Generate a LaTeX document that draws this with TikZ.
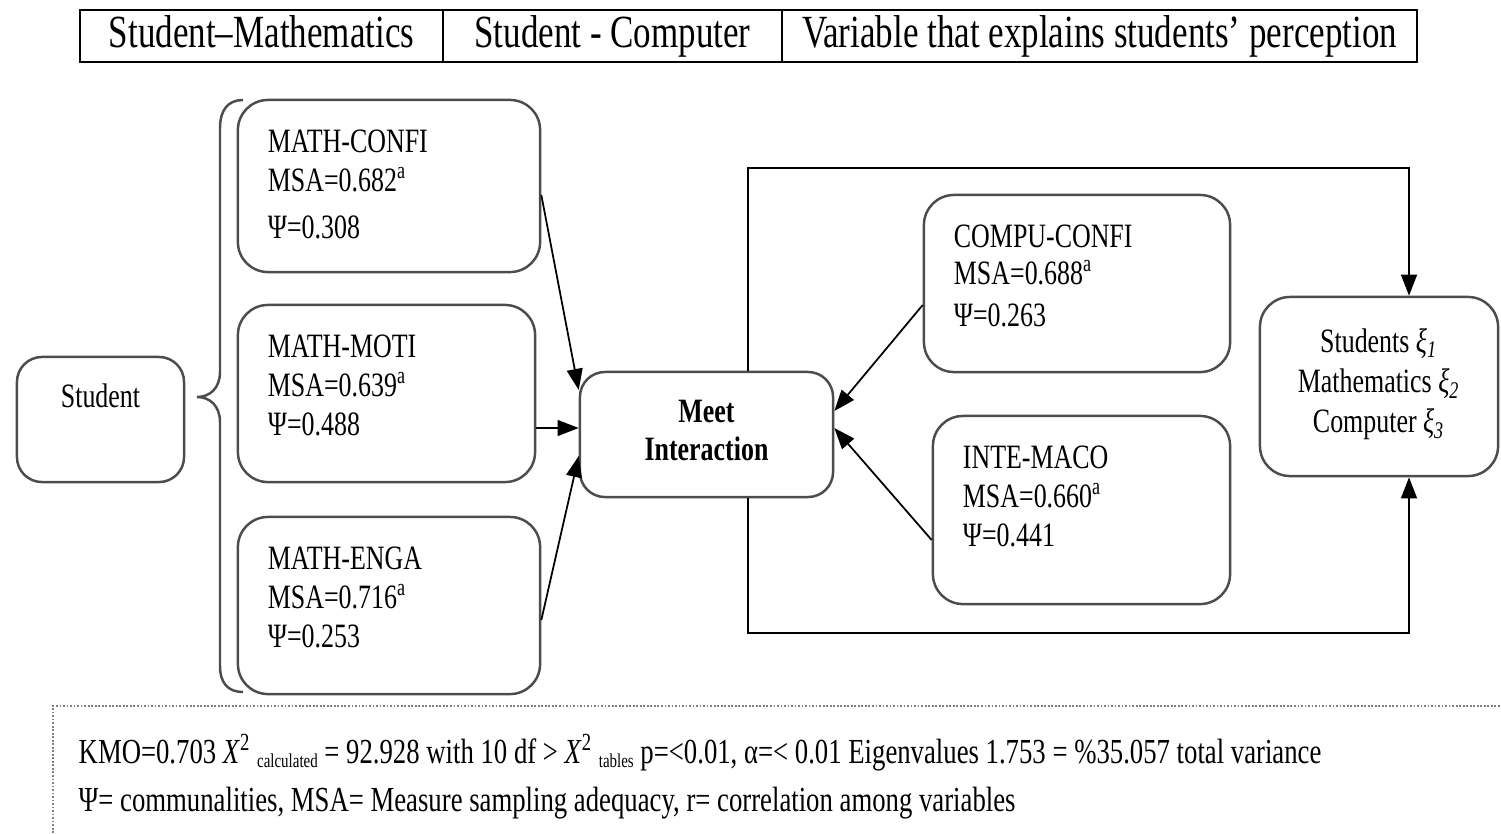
\documentclass[tikz,border=0pt]{standalone}
\usepackage{fontspec}
\setmainfont{Liberation Serif}[FakeStretch=0.76]
\usetikzlibrary{arrows.meta}

\begin{document}
\begin{tikzpicture}[x=0.01cm,y=-0.01cm]
  \tikzstyle{cell}=[rectangle,draw,line width=0.6pt,inner sep=0pt,minimum height=0.52cm,text height=9.5pt,text depth=2.8pt,font=\fontsize{13.1}{15}\selectfont]
  \tikzstyle{factor}=[rectangle,rounded corners=0.3cm,draw=black!70,line width=0.7pt,align=left,inner xsep=0.3cm,font=\fontsize{9.7}{11.1}\selectfont]
  \tikzstyle{latent}=[rectangle,rounded corners=0.25cm,draw=black!70,line width=0.7pt,align=center,font=\fontsize{9.7}{11.1}\selectfont]
  \tikzstyle{link}=[draw,line width=0.5pt,-{Triangle[length=6pt,width=4.5pt]}]
  \tikzstyle{note}=[anchor=base west,inner sep=0pt,font=\fontsize{10}{12}\selectfont]
  \newcommand{\tinysub}[1]{\raisebox{-1.2pt}{\fontsize{5.6}{6}\selectfont #1}}
  \useasboundingbox (0,0) rectangle (1501,833);

  % header row
  \node [cell,minimum width=3.63cm] (hmath) at (261.5,36) {Student--Mathematics};
  \node [cell,minimum width=3.39cm] (hcomp) at (612.5,36) {Student - Computer};
  \node [cell,minimum width=6.35cm] (hvar)  at (1099.5,36) {Variable that explains students’ perception};

  % student and the three mathematics factors
  \node [latent,minimum width=1.67cm,minimum height=1.25cm,text height=6.7pt,text depth=13.3pt] (student) at (100.5,419.5) {Student};
  \draw [black!70,line width=0.7pt] (243,100) .. controls (228,100) and (220,110) .. (220,128) -- (220,372)
        .. controls (220,388) and (210,397) .. (197,397) .. controls (210,397) and (220,406) .. (220,422)
        -- (220,666) .. controls (220,683) and (228,692) .. (243,692);
  \node [factor,text width=2.42cm,minimum height=1.72cm,text depth=25.7pt] (conf) at (389,186) {MATH-CONFI\\MSA=0.682\textsuperscript{a}\\[2.3pt]Ψ=0.308};
  \node [factor,text width=2.37cm,minimum height=1.77cm,text depth=26.8pt] (moti) at (386.5,393.5) {MATH-MOTI\\MSA=0.639\textsuperscript{a}\\Ψ=0.488};
  \node [factor,text width=2.42cm,minimum height=1.77cm,text depth=26.8pt] (enga) at (389,605.5) {MATH-ENGA\\MSA=0.716\textsuperscript{a}\\Ψ=0.253};

  % interaction and the computer factors
  \node [latent,minimum width=2.53cm,minimum height=1.25cm,text depth=2.5pt,font=\fontsize{9.7}{10.8}\selectfont\bfseries] (meet) at (706.5,434.5) {Meet\\Interaction};
  \node [factor,text width=2.46cm,minimum height=1.77cm,text depth=27.1pt,font=\fontsize{9.7}{10.5}\selectfont] (compu) at (1077,283.5) {COMPU-CONFI\\MSA=0.688\textsuperscript{a}\\[1.5pt]Ψ=0.263};
  \node [factor,text width=2.37cm,minimum height=1.88cm,text depth=30.2pt] (inte) at (1081.5,510) {INTE-MACO\\MSA=0.660\textsuperscript{a}\\Ψ=0.441};
  \node [latent,rounded corners=0.3cm,minimum width=2.38cm,minimum height=1.79cm,text depth=3.2pt,font=\fontsize{9.7}{11.4}\selectfont] (result) at (1379,386.5)
        {Students \textit{ξ}\textsubscript{\textit{1}}\\Mathematics \textit{ξ}\textsubscript{\textit{2}}\\Computer \textit{ξ}\textsubscript{\textit{3}}};

  \draw [link] (conf.east |- 0,195) -- (meet.west |- 0,390);
  \draw [link] (moti.east |- 0,428) -- (meet.west |- 0,428);
  \draw [link] (enga.east |- 0,620) -- (meet.west |- 0,456);
  \draw [link] (compu.west |- 0,305) -- (meet.east |- 0,411);
  \draw [link] (inte.west |- 0,540) -- (meet.east |- 0,428);

  % loop round the computer factors
  \coordinate (loopnw) at (748,168);
  \coordinate (loopne) at (1409,168);
  \coordinate (loopsw) at (748,633);
  \coordinate (loopse) at (1409,633);
  \draw [link,line width=0.6pt] (meet.north -| loopnw) -- (loopnw) -- (loopne) -- (loopne |- result.north);
  \draw [link,line width=0.6pt] (meet.south -| loopsw) -- (loopsw) -- (loopse) -- (loopse |- result.south);

  % notes
  \draw [gray,line width=0.6pt,dash pattern=on 0.5pt off 0.5pt] (53,833) -- (53,706) -- (1501,706);
  \node [note] (kmo) at (78,763) {KMO=0.703 \textit{X}\textsuperscript{2}\,\tinysub{calculated} = 92.928 with 10 df > \textit{X}\textsuperscript{2}\,\tinysub{tables} p=<0.01, α=< 0.01 Eigenvalues 1.753 = \%35.057 total variance};
  \node [note] (psi) at (78,811) {Ψ= communalities, MSA= Measure sampling adequacy, r= correlation among variables};
\end{tikzpicture}
\end{document}
